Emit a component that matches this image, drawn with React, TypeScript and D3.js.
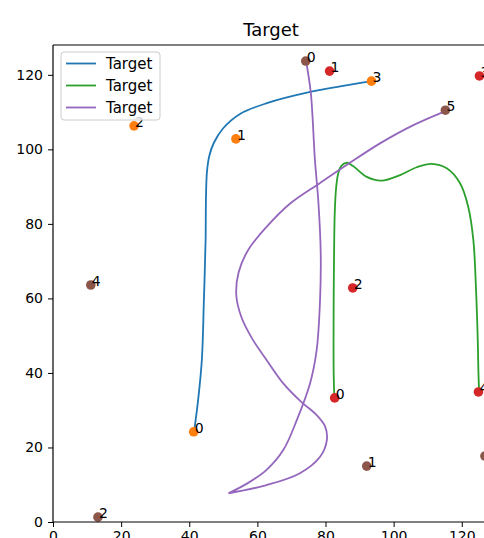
import React, { useEffect, useRef } from "react";
import * as d3 from "d3";

// labelled points of each series
const bluePoints: [number, number][] = [
  [41.3, 24.2],
  [53.7, 102.8],
  [23.8, 106.3],
  [93.5, 118.3],
];
const greenPoints: [number, number][] = [
  [82.7, 33.3],
  [81.2, 121.0],
  [88.0, 62.8],
  [125.2, 119.7],
  [124.9, 34.9],
];
const purplePoints: [number, number][] = [
  [74.2, 123.7],
  [92.1, 15.0],
  [13.2, 1.3],
  [126.8, 17.7],
  [11.1, 63.6],
  [115.2, 110.5],
];

// traced curves
const blueCurve: [number, number][] = [
  [41.4, 24.1], [42.6, 32.7], [43.7, 43.5], [44.3, 59.6], [44.8, 75.7],
  [44.9, 86.4], [45.2, 94.0], [45.9, 98.3], [47.2, 101.7], [49.9, 105.6],
  [54.9, 109.5], [62.8, 112.4], [75.5, 115.4], [84.3, 116.9], [93.7, 118.3],
];
const greenCurve: [number, number][] = [
  [82.6, 33.6], [82.4, 40.0], [82.4, 59.6], [82.5, 70.3], [82.7, 82.5],
  [83.1, 89.5], [83.7, 93.4], [84.6, 95.5], [86.2, 96.4], [88.1, 95.5],
  [92.1, 92.6], [96.5, 91.6], [101.9, 93.1], [106.8, 95.2], [111.2, 96.1],
  [115.6, 94.9], [119.5, 90.9], [121.9, 84.6], [123.4, 75.7], [124.2, 62.2],
  [124.7, 48.8], [124.9, 40.0], [125.1, 34.9],
];
// purple has a sharp tip, so two pieces meeting there
const purpleCurveA: [number, number][] = [
  [74.3, 123.7], [75.7, 115.0], [76.9, 97.1], [77.9, 86.0], [78.6, 72.0],
  [78.4, 59.6], [77.4, 46.1], [75.5, 37.3], [71.6, 27.4], [67.6, 19.3],
  [62.7, 14.0], [57.3, 10.5], [51.5, 7.7],
];
const purpleCurveB: [number, number][] = [
  [51.5, 7.7], [62.7, 9.9], [72.5, 13.1], [78.4, 17.5], [80.4, 22.0],
  [79.9, 25.6], [77.4, 28.7], [72.8, 32.3], [67.6, 37.2], [62.7, 43.5],
  [58.6, 49.0], [55.3, 55.0], [53.8, 61.0], [54.5, 67.0], [57.3, 73.0],
  [62.7, 79.2], [69.8, 85.6], [78.4, 91.0], [86.2, 95.8],
  [96.0, 101.6], [105.8, 106.5], [115.6, 110.4],
];

const seriesNames = ["Target", "Target", "Target"];
const lineColors = ["#1f77b4", "#2ca02c", "#9467bd"];
const pointColors = ["#ff7f0e", "#d62728", "#8c564b"];
const xTicks = [0, 20, 40, 60, 80, 100, 120];
const yTicks = [0, 20, 40, 60, 80, 100, 120];

export default function App() {
  const ref = useRef<SVGSVGElement>(null);

  useEffect(() => {
    const w = 484;
    const h = 538;
    const left = 53;
    const right = 489;
    const top = 45;
    const bottom = 522;

    const svg = d3.select(ref.current);
    svg.selectAll("*").remove();
    svg.attr("width", w).attr("height", h);

    const font = "DejaVu Sans, sans-serif";

    const xScale = d3.scaleLinear().domain([0, 128]).range([left, right]);
    const yScale = d3.scaleLinear().domain([0, 128]).range([bottom, top]);

    svg.append("rect").attr("width", w).attr("height", h).attr("fill", "white");

    svg
      .append("defs")
      .append("clipPath")
      .attr("id", "plot-clip")
      .append("rect")
      .attr("x", left)
      .attr("y", top)
      .attr("width", right - left)
      .attr("height", bottom - top);

    // title
    svg
      .append("text")
      .attr("x", (left + right) / 2)
      .attr("y", 36)
      .attr("text-anchor", "middle")
      .style("font-family", font)
      .style("font-size", "18px")
      .text("Target");

    const plot = svg.append("g").attr("clip-path", "url(#plot-clip)");

    const line = d3
      .line<[number, number]>()
      .x((d) => xScale(d[0]))
      .y((d) => yScale(d[1]))
      .curve(d3.curveCatmullRom.alpha(0.5));

    const curves = [
      [blueCurve],
      [greenCurve],
      [purpleCurveA, purpleCurveB],
    ];
    curves.forEach((pieces, i) => {
      plot
        .append("path")
        .attr("d", pieces.map((p) => line(p)).join(""))
        .attr("fill", "none")
        .attr("stroke", lineColors[i])
        .attr("stroke-width", 1.8);
    });

    const allPoints = [bluePoints, greenPoints, purplePoints];
    allPoints.forEach((pts, i) => {
      plot
        .selectAll(null)
        .data(pts)
        .enter()
        .append("circle")
        .attr("cx", (d) => xScale(d[0]))
        .attr("cy", (d) => yScale(d[1]))
        .attr("r", 4.8)
        .attr("fill", pointColors[i]);
    });

    allPoints.forEach((pts) => {
      svg
        .selectAll(null)
        .data(pts)
        .enter()
        .append("text")
        .attr("x", (d) => xScale(d[0]) + 1)
        .attr("y", (d) => yScale(d[1]) + 1)
        .style("font-family", font)
        .style("font-size", "14px")
        .text((d, j) => String(j));
    });

    // axes
    const xAxis = d3.axisBottom(xScale).tickValues(xTicks).tickSize(5).tickPadding(4);
    const gx = svg
      .append("g")
      .attr("transform", "translate(0," + bottom + ")")
      .call(xAxis);
    const yAxis = d3.axisLeft(yScale).tickValues(yTicks).tickSize(5).tickPadding(5);
    const gy = svg
      .append("g")
      .attr("transform", "translate(" + left + ",0)")
      .call(yAxis);

    [gx, gy].forEach((g) => {
      g.select(".domain").attr("stroke", "black").attr("stroke-width", 1.2);
      g.selectAll(".tick line").attr("stroke", "black");
      g.selectAll(".tick text")
        .style("font-family", font)
        .style("font-size", "14px")
        .attr("fill", "black");
    });
    gx.select(".domain").attr("d", "M" + left + ",0H" + right);
    gy.select(".domain").attr("d", "M0," + top + "V" + bottom);

    // top spine
    svg
      .append("line")
      .attr("x1", left)
      .attr("x2", right)
      .attr("y1", top)
      .attr("y2", top)
      .attr("stroke", "black")
      .attr("stroke-width", 1.2);

    // legend
    const legend = svg.append("g").attr("transform", "translate(61,52)");
    legend
      .append("rect")
      .attr("width", 99)
      .attr("height", 68)
      .attr("rx", 3)
      .attr("fill", "white")
      .attr("fill-opacity", 0.8)
      .attr("stroke", "#cccccc");
    seriesNames.forEach((name, i) => {
      const y = 11.5 + i * 22;
      legend
        .append("line")
        .attr("x1", 5)
        .attr("x2", 35)
        .attr("y1", y)
        .attr("y2", y)
        .attr("stroke", lineColors[i])
        .attr("stroke-width", 1.8);
      legend
        .append("text")
        .attr("x", 45)
        .attr("y", y + 5)
        .style("font-family", font)
        .style("font-size", "15px")
        .text(name);
    });
  }, []);

  return (
    <svg
      ref={ref}
      style={{ position: "absolute", left: 0, top: 0, display: "block" }}
    />
  );
}
